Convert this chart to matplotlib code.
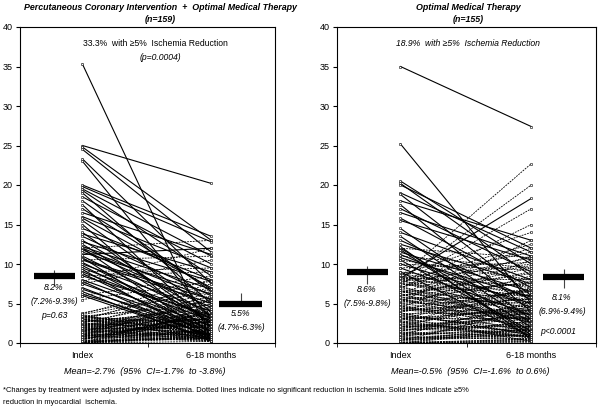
import numpy as np
import matplotlib
matplotlib.use("Agg")
from matplotlib import pyplot as plt

plt.rcParams['font.family'] = ['Liberation Sans', 'DejaVu Sans']

# x positions of the two time points and labels
time_labels = ['Index', '6-18 months']

# PCI + OMT, solid lines (>=5% reduction)
pci_solid_index = [35.3, 25.0, 24.8, 24.5, 23.3, 23.0, 20.0, 19.8, 19.5, 19.3,
                   19.0, 18.5, 18.0, 17.5, 16.0, 15.8, 15.5, 15.0, 14.5, 13.5,
                   13.0, 12.8, 12.5, 12.0, 12.0, 11.8, 11.5, 11.0, 10.8, 10.5,
                   10.2, 10.0, 9.8, 9.5, 9.3, 9.0, 8.8, 8.5, 8.0, 7.8,
                   7.5, 7.0, 6.8, 6.5, 6.2, 6.0, 11.2, 13.8, 16.5, 17.0,
                   14.0, 12.2, 10.6]
pci_solid_follow = [0.5, 20.2, 13.0, 11.5, 7.5, 3.0, 13.5, 12.8, 11.0, 8.5,
                    5.0, 10.0, 6.5, 2.0, 9.5, 7.0, 4.0, 1.0, 8.0, 6.0,
                    3.5, 7.8, 2.5, 5.5, 0.8, 4.5, 6.2, 3.0, 0.5, 5.0,
                    2.0, 4.0, 1.5, 3.2, 0.3, 2.8, 1.0, 3.5, 2.2, 0.6,
                    1.8, 0.8, 1.5, 0.2, 1.0, 0.5, 12.0, 9.0, 11.2, 6.8,
                    2.5, 6.8, 5.5]

# PCI + OMT, dotted lines (no significant reduction)
pci_dot_index = [3.5, 3.3, 3.0, 2.8, 2.5, 2.2, 2.0, 1.8, 1.5, 1.2,
                 1.0, 0.8, 0.5, 0.3, 0.0, 3.6, 3.2, 2.9, 2.6, 2.3,
                 2.1, 1.9, 1.6, 1.3, 1.1, 0.9, 0.6, 0.4, 0.1, 0.0,
                 3.4, 3.1, 2.7, 2.4, 2.0, 1.7, 1.4, 1.0, 0.7, 0.2,
                 3.8, 3.0, 2.5, 1.5, 0.5, 0.0, 3.3, 2.8, 2.2, 1.8,
                 1.2, 0.8, 0.3, 0.0, 3.5, 2.9, 2.4, 1.9, 1.4, 0.9,
                 0.4, 0.0, 3.2, 2.6, 2.1, 1.6, 1.1, 0.6, 0.1, 0.0,
                 3.7, 3.0, 2.3, 1.7, 1.0, 0.5, 0.0, 2.7, 2.0, 1.3,
                 0.7, 0.0, 7.8, 7.5, 6.0, 5.5, 9.0, 10.5, 12.0, 8.5,
                 3.0, 2.5, 1.5, 0.5, 3.4, 2.2, 1.2, 0.2, 3.1, 1.9,
                 0.9, 0.0, 2.6, 1.4, 0.8, 0.0]
pci_dot_follow = [1.0, 2.5, 0.5, 3.0, 1.5, 4.0, 0.8, 2.0, 5.0, 1.2,
                  0.3, 2.8, 3.5, 0.6, 1.0, 6.5, 2.2, 1.8, 4.5, 0.4,
                  3.2, 1.4, 0.9, 2.6, 5.5, 0.2, 1.6, 3.8, 0.7, 2.4,
                  4.8, 0.5, 2.9, 1.1, 3.6, 0.3, 2.0, 4.2, 1.3, 0.8,
                  7.0, 3.4, 1.9, 6.0, 2.7, 0.6, 5.2, 1.0, 3.0, 0.4,
                  2.3, 4.4, 1.7, 3.3, 0.9, 7.5, 2.1, 0.5, 4.6, 1.5,
                  3.9, 0.2, 2.5, 5.8, 1.2, 3.1, 0.7, 2.8, 4.1, 1.8,
                  8.0, 0.6, 3.7, 2.2, 5.4, 1.4, 0.9, 4.3, 2.6, 0.3,
                  3.5, 1.6, 12.0, 10.5, 8.5, 7.8, 9.5, 11.0, 13.0, 9.0,
                  2.0, 6.3, 0.8, 3.2, 1.1, 4.9, 2.4, 0.6, 6.8, 3.0,
                  1.7, 4.0, 0.4, 5.6, 2.9, 1.3]

# OMT, solid lines
omt_solid_index = [35.0, 25.2, 20.5, 20.2, 19.0, 18.8, 18.0, 17.5, 17.0, 15.8,
                   15.5, 14.5, 13.0, 12.5, 12.0, 11.5, 11.2, 10.5, 10.0, 9.5,
                   12.2, 16.5, 14.0, 11.8, 13.5, 10.8, 9.0, 8.2, 20.0]
omt_solid_follow = [27.4, 5.0, 10.0, 8.5, 11.5, 6.0, 13.0, 4.0, 9.0, 7.0,
                    10.5, 3.0, 5.5, 7.5, 2.0, 6.5, 4.5, 1.5, 5.0, 3.5,
                    0.5, 11.0, 8.0, 1.0, 2.5, 5.8, 0.8, 18.3, 12.0]

# OMT, dotted lines
omt_dot_index = [8.5, 8.2, 8.0, 7.8, 7.5, 7.2, 7.0, 6.8, 6.5, 6.2,
                 6.0, 5.8, 5.5, 5.2, 5.0, 4.8, 4.5, 4.2, 4.0, 3.8,
                 3.5, 3.2, 3.0, 2.8, 2.5, 2.2, 2.0, 1.8, 1.5, 1.2,
                 1.0, 0.8, 0.5, 0.3, 0.0, 8.4, 7.9, 7.4, 6.9, 6.4,
                 5.9, 5.4, 4.9, 4.4, 3.9, 3.4, 2.9, 2.4, 1.9, 1.4,
                 0.9, 0.4, 0.0, 8.3, 7.6, 7.1, 6.6, 6.1, 5.6, 5.1,
                 4.6, 4.1, 3.6, 3.1, 2.6, 2.1, 1.6, 1.1, 0.6, 0.1,
                 8.1, 7.3, 6.7, 5.7, 4.7, 3.7, 2.7, 1.7, 0.7, 0.0,
                 8.6, 7.7, 6.3, 5.3, 4.3, 3.3, 2.3, 1.3, 0.2, 0.0,
                 8.0, 7.0, 6.0, 5.0, 4.0, 3.0, 2.0, 1.0, 0.5, 0.0,
                 9.5, 10.0, 11.0, 12.0, 10.5, 9.0, 8.8, 7.5, 6.5, 5.5,
                 4.5, 3.5, 2.5, 1.5, 0.8, 0.3, 7.8, 5.8, 3.8, 1.8,
                 4.2, 2.2, 6.2, 0.0, 1.2, 3.2]
omt_dot_follow = [5.0, 8.0, 3.5, 10.0, 6.0, 2.5, 12.0, 4.5, 7.5, 1.5,
                  9.0, 5.5, 3.0, 13.0, 6.5, 2.0, 10.5, 4.0, 8.5, 1.0,
                  5.8, 3.2, 7.0, 0.8, 4.8, 2.2, 6.2, 1.2, 3.8, 0.5,
                  5.2, 2.8, 1.8, 4.2, 0.3, 22.7, 20.0, 17.0, 15.0, 11.0,
                  9.5, 7.8, 5.5, 3.5, 6.8, 2.5, 4.5, 1.5, 3.0, 0.8,
                  2.0, 1.0, 0.2, 7.2, 4.0, 9.8, 3.0, 6.0, 1.8, 8.2,
                  2.8, 5.2, 1.2, 4.2, 0.6, 3.4, 2.2, 1.6, 0.9, 0.4,
                  6.4, 10.8, 2.6, 5.0, 1.4, 3.8, 0.7, 2.4, 1.1, 0.5,
                  14.0, 12.5, 8.8, 3.6, 6.6, 2.0, 4.9, 0.9, 1.7, 0.1,
                  11.5, 4.4, 7.6, 2.9, 5.6, 1.3, 3.3, 2.7, 0.6, 1.9,
                  10.2, 9.2, 9.5, 10.8, 8.0, 7.0, 6.0, 5.2, 4.0, 3.1,
                  2.3, 1.6, 6.9, 4.6, 0.4, 2.1, 5.9, 3.7, 1.0, 4.3,
                  3.0, 0.8, 2.6, 1.5, 3.9, 0.2]

# group means and 95% CI (index, follow-up)
pci_means = [8.5, 5.0]
pci_ci = [(7.2, 9.3), (4.7, 6.3)]
omt_means = [9.0, 8.3]
omt_ci = [(7.5, 9.8), (6.9, 9.4)]

W, H = 600, 408
fig = plt.figure(figsize=(6, 4.08), dpi=100)


def px_axes(x0, x1, y0, y1):
    return fig.add_axes([x0 / W, 1 - y1 / H, (x1 - x0) / W, (y1 - y0) / H])


def ftext(x, y, s, **kw):
    fig.text(x / W, 1 - y / H, s, ha='center', va='center', **kw)


def panel(ax, solid_i, solid_f, dot_i, dot_f, means, ci, bar_x):
    xs = [0.49, 1.5]
    for a, b in zip(dot_i, dot_f):
        ax.plot(xs, [a, b], color='black', lw=0.6, ls=(0, (2.2, 1.2)),
                marker='s', ms=1.4, mfc='white', mec='black', mew=0.4)
    for a, b in zip(solid_i, solid_f):
        ax.plot(xs, [a, b], color='black', lw=0.8,
                marker='s', ms=1.4, mfc='white', mec='black', mew=0.4)
    for (cx, half), m, (lo, hi) in zip(bar_x, means, ci):
        ax.vlines(cx, lo, hi, color='#444444', lw=0.8, zorder=3)
        ax.hlines(m, cx - half, cx + half, color='black', lw=4.5, zorder=4)
    ax.set_xlim(0, 2)
    ax.set_ylim(0, 40)
    ax.set_yticks(range(0, 41, 5))
    ax.set_xticks(xs)
    ax.set_xticklabels(time_labels, fontsize=6.5)
    ax.tick_params(axis='x', length=0, pad=6)
    ax.set_xticks([0, 1, 2], minor=True)
    ax.tick_params(axis='x', which='minor', length=3, direction='out')
    ax.tick_params(axis='y', labelsize=6.5, length=3, direction='out', pad=2)
    for sp in ax.spines.values():
        sp.set_linewidth(0.8)


ax1 = px_axes(20, 275, 27, 343)
panel(ax1, pci_solid_index, pci_solid_follow, pci_dot_index, pci_dot_follow,
      pci_means, pci_ci, [(0.27, 0.16), (1.73, 0.17)])

ax2 = px_axes(337, 596, 27, 343)
panel(ax2, omt_solid_index, omt_solid_follow, omt_dot_index, omt_dot_follow,
      omt_means, omt_ci, [(0.235, 0.16), (1.75, 0.16)])

# titles
ftext(160, 8, 'Percutaneous Coronary Intervention  +  Optimal Medical Therapy',
      fontsize=6.4, fontweight='bold', style='italic')
ftext(160, 20, '(n=159)', fontsize=6.4, fontweight='bold', style='italic')
ftext(468, 8, 'Optimal Medical Therapy', fontsize=6.4, fontweight='bold', style='italic')
ftext(468, 20, '(n=155)', fontsize=6.4, fontweight='bold', style='italic')

ftext(155, 44, '33.3%  with \u22655%  Ischemia Reduction', fontsize=6.2)
ftext(160, 57, '(p=0.0004)', fontsize=6.2, style='italic')
ftext(468, 44, '18.9%  with \u22655%  Ischemia Reduction', fontsize=6.2, style='italic')

# mean annotations
ftext(54, 288, '8.2%', fontsize=6.2, style='italic')
ftext(54, 301, '(7.2%-9.3%)', fontsize=6.2, style='italic')
ftext(54, 315, 'p=0.63', fontsize=6.2, style='italic')
ftext(241, 314, '5.5%', fontsize=6.2, style='italic')
ftext(241, 327, '(4.7%-6.3%)', fontsize=6.2, style='italic')

ftext(367, 290, '8.6%', fontsize=6.2, style='italic')
ftext(367, 303, '(7.5%-9.8%)', fontsize=6.2, style='italic')
ftext(562, 298, '8.1%', fontsize=6.2, style='italic')
ftext(562, 312, '(6.9%-9.4%)', fontsize=6.2, style='italic')
ftext(558, 331, 'p<0.0001', fontsize=6.2, style='italic')

ftext(145, 371, 'Mean=-2.7%  (95%  CI=-1.7%  to -3.8%)', fontsize=6.5, style='italic')
ftext(470, 371, 'Mean=-0.5%  (95%  CI=-1.6%  to 0.6%)', fontsize=6.5, style='italic')

fig.text(3 / W, 1 - 391 / H,
         '*Changes by treatment were adjusted by index ischemia. Dotted lines indicate no significant '
         'reduction in ischemia. Solid lines indicate \u22655%',
         fontsize=5.4, ha='left', va='center')
fig.text(3 / W, 1 - 402 / H, 'reduction in myocardial  ischemia.',
         fontsize=5.4, ha='left', va='center')

fig.savefig('out.png', dpi=100)
